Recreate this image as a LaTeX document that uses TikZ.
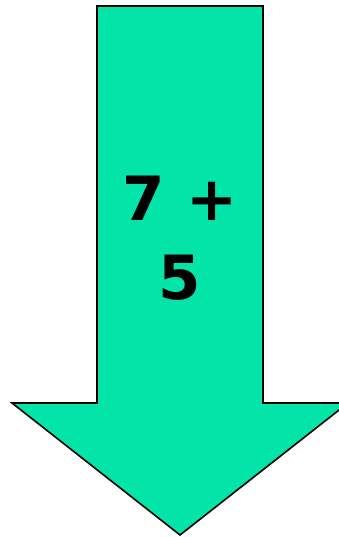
\documentclass[tikz,border=0pt]{standalone}
\usepackage{fontspec}
\newfontfamily\arrowfont{DejaVu Sans}
\usetikzlibrary{positioning}
\definecolor{arrowgreen}{RGB}{2,228,168}
\tikzset{
  bigarrow/.style={draw=black,line width=1.6pt,fill=arrowgreen,line join=miter},
  sumlabel/.style={font=\arrowfont\bfseries\fontsize{61}{79}\selectfont,align=center,inner sep=0pt},
}
\begin{document}
\begin{tikzpicture}[x=1pt,y=1pt]
\useasboundingbox (0,0) rectangle (339,537);
% arrow body
\draw[bigarrow] (97,531) -- (263,531) -- (263,134) -- (348,134) -- (180,2)
  -- (12,134) -- (97,134) -- cycle;
% label
\node[sumlabel,anchor=base] (sum) at (180,237) {7 +\\5};
\end{tikzpicture}
\end{document}
